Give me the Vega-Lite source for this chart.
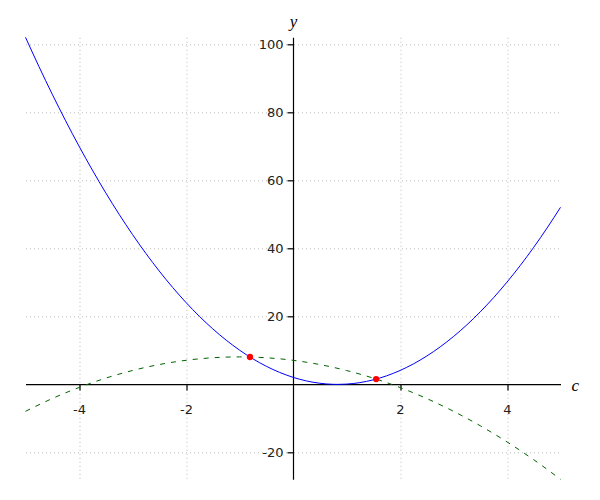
{
  "$schema": "https://vega.github.io/schema/vega-lite/v6.json",
  "width": 535,
  "height": 442,
  "autosize": {"type": "none"},
  "padding": {"left": 25.5, "top": 37.3, "right": 39.5, "bottom": 20.7},
  "background": "white",
  "config": {
    "view": {"stroke": null},
    "axis": {
      "labelFont": "DejaVu Sans",
      "labelFontSize": 13,
      "labelColor": "#222222",
      "labelExpr": "datum.value < 0 ? '-' + abs(datum.value) : '' + datum.value",
      "domainColor": "#000000",
      "domainWidth": 1.2,
      "tickColor": "#000000",
      "tickWidth": 1.2,
      "tickSize": 6,
      "gridColor": "#bbbbbb",
      "gridDash": [1, 3],
      "gridWidth": 1,
      "titleFont": "Liberation Serif",
      "titleFontStyle": "italic",
      "titleFontWeight": "normal",
      "titleFontSize": 17,
      "titleColor": "#000000"
    }
  },
  "datasets": {
    "curves": [
      {"c": -5, "y": 102, "s": "f"},
      {"c": -4.75, "y": 93.4375, "s": "f"},
      {"c": -4.5, "y": 85.25, "s": "f"},
      {"c": -4.25, "y": 77.4375, "s": "f"},
      {"c": -4, "y": 70, "s": "f"},
      {"c": -3.75, "y": 62.9375, "s": "f"},
      {"c": -3.5, "y": 56.25, "s": "f"},
      {"c": -3.25, "y": 49.9375, "s": "f"},
      {"c": -3, "y": 44, "s": "f"},
      {"c": -2.75, "y": 38.4375, "s": "f"},
      {"c": -2.5, "y": 33.25, "s": "f"},
      {"c": -2.25, "y": 28.4375, "s": "f"},
      {"c": -2, "y": 24, "s": "f"},
      {"c": -1.75, "y": 19.9375, "s": "f"},
      {"c": -1.5, "y": 16.25, "s": "f"},
      {"c": -1.25, "y": 12.9375, "s": "f"},
      {"c": -1, "y": 10, "s": "f"},
      {"c": -0.75, "y": 7.4375, "s": "f"},
      {"c": -0.5, "y": 5.25, "s": "f"},
      {"c": -0.25, "y": 3.4375, "s": "f"},
      {"c": 0, "y": 2, "s": "f"},
      {"c": 0.25, "y": 0.9375, "s": "f"},
      {"c": 0.5, "y": 0.25, "s": "f"},
      {"c": 0.75, "y": -0.0625, "s": "f"},
      {"c": 0.8333, "y": -0.0833, "s": "f"},
      {"c": 1, "y": 0, "s": "f"},
      {"c": 1.25, "y": 0.4375, "s": "f"},
      {"c": 1.5, "y": 1.25, "s": "f"},
      {"c": 1.75, "y": 2.4375, "s": "f"},
      {"c": 2, "y": 4, "s": "f"},
      {"c": 2.25, "y": 5.9375, "s": "f"},
      {"c": 2.5, "y": 8.25, "s": "f"},
      {"c": 2.75, "y": 10.9375, "s": "f"},
      {"c": 3, "y": 14, "s": "f"},
      {"c": 3.25, "y": 17.4375, "s": "f"},
      {"c": 3.5, "y": 21.25, "s": "f"},
      {"c": 3.75, "y": 25.4375, "s": "f"},
      {"c": 4, "y": 30, "s": "f"},
      {"c": 4.25, "y": 34.9375, "s": "f"},
      {"c": 4.5, "y": 40.25, "s": "f"},
      {"c": 4.75, "y": 45.9375, "s": "f"},
      {"c": 5, "y": 52, "s": "f"},
      {"c": -5, "y": -8, "s": "g"},
      {"c": -4.5, "y": -4.25, "s": "g"},
      {"c": -4, "y": -1, "s": "g"},
      {"c": -3.5, "y": 1.75, "s": "g"},
      {"c": -3, "y": 4, "s": "g"},
      {"c": -2.5, "y": 5.75, "s": "g"},
      {"c": -2, "y": 7, "s": "g"},
      {"c": -1.5, "y": 7.75, "s": "g"},
      {"c": -1, "y": 8, "s": "g"},
      {"c": -0.5, "y": 7.75, "s": "g"},
      {"c": 0, "y": 7, "s": "g"},
      {"c": 0.5, "y": 5.75, "s": "g"},
      {"c": 1, "y": 4, "s": "g"},
      {"c": 1.5, "y": 1.75, "s": "g"},
      {"c": 2, "y": -1, "s": "g"},
      {"c": 2.5, "y": -4.25, "s": "g"},
      {"c": 3, "y": -8, "s": "g"},
      {"c": 3.5, "y": -12.25, "s": "g"},
      {"c": 4, "y": -17, "s": "g"},
      {"c": 4.5, "y": -22.25, "s": "g"},
      {"c": 5, "y": -28, "s": "g"}
    ],
    "points": [
      {"c": -0.804, "y": 7.962},
      {"c": 1.554, "y": 1.477}
    ]
  },
  "encoding": {
    "x": {
      "field": "c",
      "type": "quantitative",
      "scale": {"domain": [-5, 5], "nice": false, "zero": false},
      "axis": {
        "orient": "bottom",
        "offset": -95.2,
        "values": [-4, -2, 2, 4],
        "labelBaseline": "top",
        "labelPadding": 13,
        "title": "c",
        "titleAngle": 0,
        "titleAlign": "left",
        "titleBaseline": "alphabetic",
        "titleX": 545.5,
        "titleY": 6
      }
    },
    "y": {
      "field": "y",
      "type": "quantitative",
      "scale": {"domain": [-28, 102], "nice": false, "zero": false},
      "axis": {
        "orient": "left",
        "offset": -267.5,
        "values": [-20, 20, 40, 60, 80, 100],
        "labelPadding": 4,
        "title": "y",
        "titleAngle": 0,
        "titleAlign": "center",
        "titleBaseline": "alphabetic",
        "titleX": 0,
        "titleY": -11
      }
    }
  },
  "layer": [
    {
      "data": {"name": "curves"},
      "transform": [{"filter": "datum.s === 'g'"}],
      "mark": {"type": "line", "color": "#006400", "strokeWidth": 1, "strokeDash": [5, 6], "interpolate": "monotone"}
    },
    {
      "data": {"name": "curves"},
      "transform": [{"filter": "datum.s === 'f'"}],
      "mark": {"type": "line", "color": "#0000ff", "strokeWidth": 1, "interpolate": "monotone"}
    },
    {
      "data": {"name": "points"},
      "mark": {"type": "circle", "color": "#ff0000", "opacity": 1, "size": 40}
    }
  ]
}
